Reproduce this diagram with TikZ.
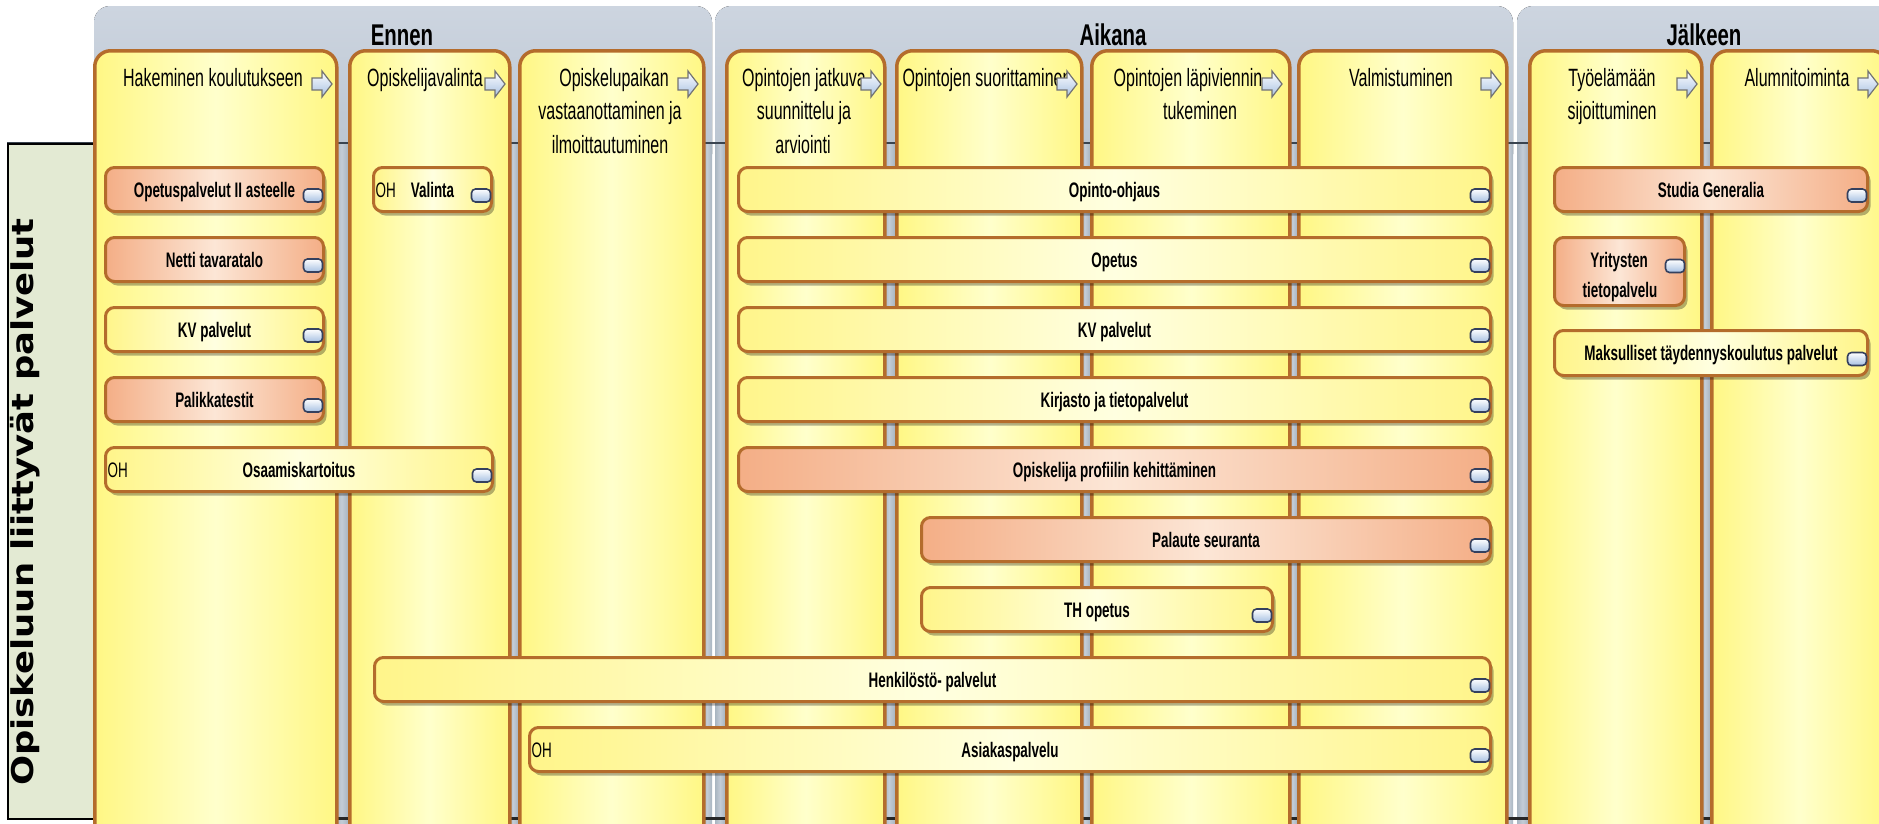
\documentclass[tikz,border=0pt]{standalone}
\usepackage{fontspec}
\setmainfont{Liberation Sans}
\newfontfamily\hdrfont[FakeStretch=0.64]{Liberation Sans}
\newfontfamily\ttlfont[FakeStretch=0.68]{Liberation Sans}
\newfontfamily\lanefont[FakeStretch=1.18]{DejaVu Sans}
\usetikzlibrary{shadows}

\definecolor{bord}{HTML}{B46C2C}
\definecolor{colY}{HTML}{FFF784}
\definecolor{colYm}{HTML}{FFFFCC}
\definecolor{boxY}{HTML}{FFF58A}
\definecolor{boxYm}{HTML}{FFFFE0}
\definecolor{boxO}{HTML}{F4AE86}
\definecolor{boxOm}{HTML}{FCE6D6}
\definecolor{grpTop}{HTML}{CDD5E0}
\definecolor{grpBot}{HTML}{B8C3CF}
\definecolor{gapc}{HTML}{A9B5C1}
\definecolor{gapl}{HTML}{C3CCD6}
\definecolor{lanec}{HTML}{E3EAD3}
\definecolor{sepc}{HTML}{3A4450}
\definecolor{iconb}{HTML}{34405E}
\definecolor{iconf}{HTML}{A6C0E2}

\tikzset{
  grpup/.style={top color=grpTop, bottom color=grpBot, rounded corners=16},
  grplow/.style={left color=gapc, right color=gapc, middle color=gapl},
  colbox/.style={draw=bord, line width=3.5, rounded corners=16, left color=colY, right color=colY, middle color=colYm, inner sep=0, anchor=north west},
  svcbase/.style={draw=bord, line width=3, rounded corners=9, inner sep=0,
    drop shadow={shadow xshift=3pt, shadow yshift=-4pt, opacity=0.3, fill=black}},
  svcY/.style={svcbase, left color=boxY, right color=boxY, middle color=boxYm},
  svcO/.style={svcbase, left color=boxO, right color=boxO, middle color=boxOm},
  icon/.style={draw=iconb, line width=1.6, rounded corners=4, minimum width=19, minimum height=13, inner sep=0, top color=white, bottom color=iconf},
  lbl/.style={font=\hdrfont\bfseries\fontsize{21}{24}\selectfont, inner sep=0},
  ohl/.style={font=\hdrfont\fontsize{21}{24}\selectfont, inner sep=0},
  hdr/.style={font=\hdrfont\fontsize{25}{30}\selectfont, inner sep=0, anchor=base},
  ttl/.style={font=\ttlfont\bfseries\fontsize{30}{34}\selectfont, inner sep=0, anchor=base},
  harrow/.style={draw=black!55, line width=1.2, top color=white, bottom color=iconf},
  lanebox/.style={draw=black, line width=1.5, fill=lanec, inner sep=0, anchor=north west},
}

% column: name, x1, x2
\newcommand{\mkcol}[3]{%
  \node[colbox, minimum width={#3-#2}, minimum height=820] (#1) at (#2,49) {};}
% gap shading between columns: x1, x2
\newcommand{\gap}[2]{\fill[grplow] (#1,144) rectangle (#2,860);}
% header arrow: tip x, centre y
\newcommand{\harr}[2]{%
  \draw[harrow] ({#1-20},{#2-6}) -- ({#1-10},{#2-6}) -- ({#1-10},{#2-13}) -- (#1,#2)
    -- ({#1-10},{#2+13}) -- ({#1-10},{#2+6}) -- ({#1-20},{#2+6}) -- cycle;}
% service box: name, x1, y1, x2, y2, style, label
\newcommand{\svc}[7]{%
  \node[#6, minimum width={#4-#2}, minimum height={#5-#3}] (#1) at ({(#2+#4)/2},{(#3+#5)/2}) {};
  \node[lbl, anchor=base] (#1l) at ({(#2+#4)/2},{(#3+#5)/2+7.5}) {#7};
  \node[icon] (#1i) at ({#4-10.5},{(#3+#5)/2+6}) {};}
% OH tag: name, x1, y1, y2
\newcommand{\ohtag}[4]{%
  \node[ohl, anchor=base west] (#1) at ({#2+2},{(#3+#4)/2+7.5}) {OH};}

\begin{document}
\begin{tikzpicture}[x=1pt,y=-1pt]
\useasboundingbox (0,0) rectangle (1879,823);
\clip (0,0) rectangle (1879,823);
\fill[white] (0,0) rectangle (1879,823);

% group backgrounds
\fill[gapc] (94,143) rectangle (712,860);
\fill[gapc] (715,143) rectangle (1513,860);
\fill[gapc] (1517,143) rectangle (1900,860);
\fill[grpup] (94,6) rectangle (712,170);
\fill[grpup] (715,6) rectangle (1513,170);
\fill[grpup] (1517,6) rectangle (1920,170);
\gap{335}{348}
\gap{508}{518}
\gap{702}{712}
\gap{715}{725}
\gap{883}{895}
\gap{1080}{1090}
\gap{1288}{1297}
\gap{1505}{1513}
\gap{1517}{1528}
\gap{1700}{1710}

% separator lines
\draw[sepc, line width=2] (7,143) -- (1879,143);
\draw[black!85, line width=3] (7,818) -- (1879,818);

% lane header
\node[lanebox, minimum width=88, minimum height=675] (lane) at (7,143) {};

% columns
\mkcol{c1}{93}{335}
\mkcol{c2}{348}{508}
\mkcol{c3}{518}{702}
\mkcol{c4}{725}{883}
\mkcol{c5}{895}{1080}
\mkcol{c6}{1090}{1288}
\mkcol{c7}{1297}{1505}
\mkcol{c8}{1528}{1700}
\mkcol{c9}{1710}{1886}

% group titles
\node[ttl] (tEnnen) at (402,45) {Ennen};
\node[ttl] (tAikana) at (1113,45) {Aikana};
\node[ttl] (tJalkeen) at (1704,45) {Jälkeen};

% column headers
\node[hdr] (h1) at (213,86) {Hakeminen koulutukseen};
\node[hdr] (h2) at (425,86) {Opiskelijavalinta};
\node[hdr] (h3a) at (614,86) {Opiskelupaikan};
\node[hdr] (h3b) at (610,119.5) {vastaanottaminen ja};
\node[hdr] (h3c) at (610,153) {ilmoittautuminen};
\node[hdr] (h4a) at (804,86) {Opintojen jatkuva};
\node[hdr] (h4b) at (804,119.5) {suunnittelu ja};
\node[hdr] (h4c) at (803,153) {arviointi};
\node[hdr] (h5) at (987,86) {Opintojen suorittaminen};
\node[hdr] (h6a) at (1188,86) {Opintojen läpiviennin};
\node[hdr] (h6b) at (1200,119.5) {tukeminen};
\node[hdr] (h7) at (1401,86) {Valmistuminen};
\node[hdr] (h8a) at (1612,86) {Työelämään};
\node[hdr] (h8b) at (1612,119.5) {sijoittuminen};
\node[hdr] (h9) at (1797,86) {Alumnitoiminta};

% header arrows
\harr{332}{84}
\harr{505}{84}
\harr{698}{84}
\harr{881}{84}
\harr{1077}{84}
\harr{1282}{84}
\harr{1501}{84}
\harr{1697}{84}
\harr{1878}{84}

% Ennen services
\svc{s1}{105.5}{167.5}{323.5}{211.5}{svcO}{Opetuspalvelut II asteelle}
\svc{s2}{105.5}{237.5}{323.5}{281.5}{svcO}{Netti tavaratalo}
\svc{s3}{105.5}{307.5}{323.5}{351.5}{svcY}{KV palvelut}
\svc{s4}{105.5}{377.5}{323.5}{421.5}{svcO}{Palikkatestit}
\svc{s5}{105.5}{447.5}{492.5}{491.5}{svcY}{Osaamiskartoitus}
\ohtag{s5oh}{105.5}{447.5}{491.5}
\svc{s6}{373.5}{167.5}{491.5}{211.5}{svcY}{Valinta}
\ohtag{s6oh}{373.5}{167.5}{211.5}

% Aikana services
\svc{a1}{738.5}{167.5}{1490.5}{211.5}{svcY}{Opinto-ohjaus}
\svc{a2}{738.5}{237.5}{1490.5}{281.5}{svcY}{Opetus}
\svc{a3}{738.5}{307.5}{1490.5}{351.5}{svcY}{KV palvelut}
\svc{a4}{738.5}{377.5}{1490.5}{421.5}{svcY}{Kirjasto ja tietopalvelut}
\svc{a5}{738.5}{447.5}{1490.5}{491.5}{svcO}{Opiskelija profiilin kehittäminen}
\svc{a6}{921.5}{517.5}{1490.5}{561.5}{svcO}{Palaute seuranta}
\svc{a7}{921.5}{587.5}{1272.5}{631.5}{svcY}{TH opetus}
\svc{a8}{374.5}{657.5}{1490.5}{701.5}{svcY}{Henkilöstö- palvelut}
\svc{a9}{529.5}{727.5}{1490.5}{771.5}{svcY}{Asiakaspalvelu}
\ohtag{a9oh}{529.5}{727.5}{771.5}

% Jälkeen services
\svc{j1}{1554.5}{167.5}{1867.5}{211.5}{svcO}{Studia Generalia}
\node[svcO, minimum width=130, minimum height=68] (j2) at (1619.5,271.5) {};
\node[lbl, anchor=base] (j2a) at (1619,267) {Yritysten};
\node[lbl, anchor=base] (j2b) at (1620,297) {tietopalvelu};
\node[icon] (j2i) at (1675,266) {};
\svc{j3}{1554.5}{330.5}{1867.5}{375.5}{svcY}{Maksulliset täydennyskoulutus palvelut}

% lane title
\node[font=\lanefont\bfseries\fontsize{30}{36}\selectfont, rotate=90, anchor=base, inner sep=0] (lanet) at (33,502) {Opiskeluun liittyvät palvelut};
\end{tikzpicture}
\end{document}
